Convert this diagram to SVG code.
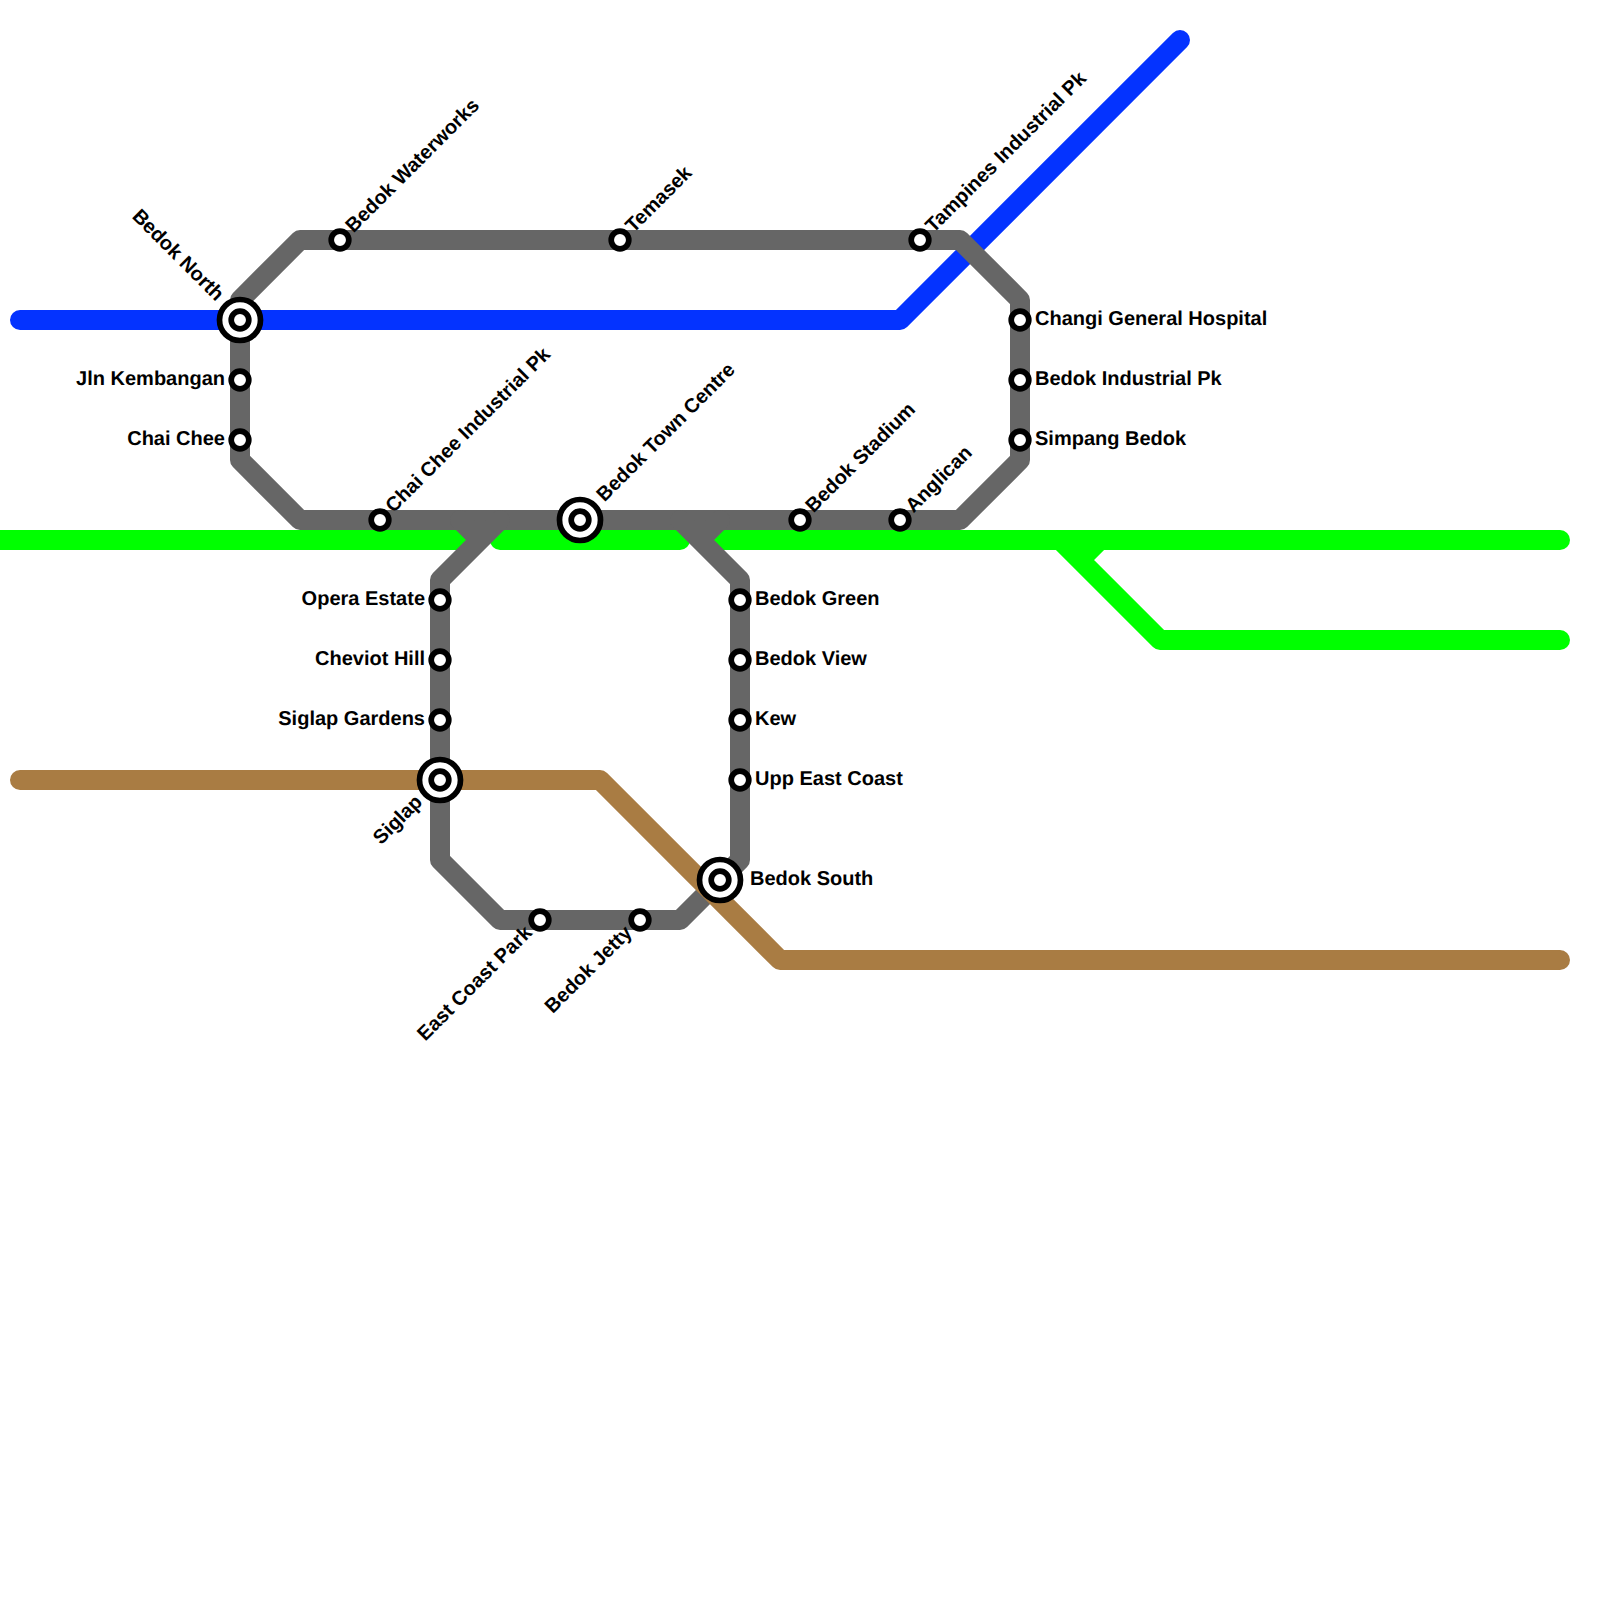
<svg xmlns="http://www.w3.org/2000/svg" width="1600" height="1600" viewBox="0 0 1600 1600">
<style>
.l{fill:none;stroke-width:20;stroke-linecap:round;stroke-linejoin:round}
.g{stroke:#00ff00}.b{stroke:#0433ff}.y{stroke:#666666}.br{stroke:#a97c43}
.s{fill:#fff;stroke:#000;stroke-width:5.7}
.o{fill:#fff;stroke:#000;stroke-width:5.7}
text{font-family:"Liberation Sans",Arial,sans-serif;font-weight:bold;font-size:20px;fill:#000;text-rendering:geometricPrecision}
.e{text-anchor:end}
</style>
<rect width="1600" height="1600" fill="#fff"/>
<defs>
<g id="st"><circle class="s" r="8.8"/></g>
<g id="ic"><circle class="o" r="20.5"/><circle class="s" r="8.8"/></g>
</defs>
<g id="connectors">
<path class="l g" d="M-20 540H1560"/>
<path class="l g" d="M1060 540L1160 640H1560M1100 540L1080 560"/>
<path d="M480 530H500V550H480ZM680 530H700V550H680Z" fill="#fff" stroke="none"/>
<path class="l g" d="M500 540H680"/>
<path class="l b" d="M20 320H900L1180 40"/>
<path class="l y" d="M300 240H960L1020 300V460L960 520H300L240 460V300Z"/>
<path class="l y" d="M500 520L440 580V860L500 920H680L740 860V580L680 520M460 520L480 540M720 520L700 540"/>
<path class="l br" d="M20 780H600L780 960H1560"/>
</g>
<g id="n-bedok-north"><use href="#ic" x="240" y="320"/><text class="e" transform="translate(216 302) rotate(45)">Bedok North</text></g>
<g id="n-jln-kembangan"><use href="#st" x="240" y="380"/><text class="e" x="225" y="385">Jln Kembangan</text></g>
<g id="n-chai-chee"><use href="#st" x="240" y="440"/><text class="e" x="225" y="445">Chai Chee</text></g>
<g id="n-bedok-waterworks"><use href="#st" x="340" y="240"/><text transform="translate(353.5 233.5) rotate(-45)">Bedok Waterworks</text></g>
<g id="n-temasek"><use href="#st" x="620" y="240"/><text transform="translate(633.5 233.5) rotate(-45)">Temasek</text></g>
<g id="n-tampines-industrial-pk"><use href="#st" x="920" y="240"/><text transform="translate(933.5 233.5) rotate(-45)">Tampines Industrial Pk</text></g>
<g id="n-changi-general-hospital"><use href="#st" x="1020" y="320"/><text x="1035" y="325">Changi General Hospital</text></g>
<g id="n-bedok-industrial-pk"><use href="#st" x="1020" y="380"/><text x="1035" y="385">Bedok Industrial Pk</text></g>
<g id="n-simpang-bedok"><use href="#st" x="1020" y="440"/><text x="1035" y="445">Simpang Bedok</text></g>
<g id="n-chai-chee-industrial-pk"><use href="#st" x="380" y="520"/><text transform="translate(393.5 513.5) rotate(-45)">Chai Chee Industrial Pk</text></g>
<g id="n-bedok-town-centre"><use href="#ic" x="580" y="520"/><text transform="translate(604.5 502.5) rotate(-45)">Bedok Town Centre</text></g>
<g id="n-bedok-stadium"><use href="#st" x="800" y="520"/><text transform="translate(813.5 513.5) rotate(-45)">Bedok Stadium</text></g>
<g id="n-anglican"><use href="#st" x="900" y="520"/><text transform="translate(913.5 513.5) rotate(-45)">Anglican</text></g>
<g id="n-opera-estate"><use href="#st" x="440" y="600"/><text class="e" x="425" y="605">Opera Estate</text></g>
<g id="n-cheviot-hill"><use href="#st" x="440" y="660"/><text class="e" x="425" y="665">Cheviot Hill</text></g>
<g id="n-siglap-gardens"><use href="#st" x="440" y="720"/><text class="e" x="425" y="725">Siglap Gardens</text></g>
<g id="n-siglap"><use href="#ic" x="440" y="780"/><text class="e" transform="translate(423.5 803) rotate(-45)">Siglap</text></g>
<g id="n-bedok-green"><use href="#st" x="740" y="600"/><text x="755" y="605">Bedok Green</text></g>
<g id="n-bedok-view"><use href="#st" x="740" y="660"/><text x="755" y="665">Bedok View</text></g>
<g id="n-kew"><use href="#st" x="740" y="720"/><text x="755" y="725">Kew</text></g>
<g id="n-upp-east-coast"><use href="#st" x="740" y="780"/><text x="755" y="785">Upp East Coast</text></g>
<g id="n-bedok-south"><use href="#ic" x="720" y="880"/><text x="750" y="885">Bedok South</text></g>
<g id="n-east-coast-park"><use href="#st" x="540" y="920"/><text class="e" transform="translate(533 934) rotate(-45)">East Coast Park</text></g>
<g id="n-bedok-jetty"><use href="#st" x="640" y="920"/><text class="e" transform="translate(633 934) rotate(-45)">Bedok Jetty</text></g>
</svg>
